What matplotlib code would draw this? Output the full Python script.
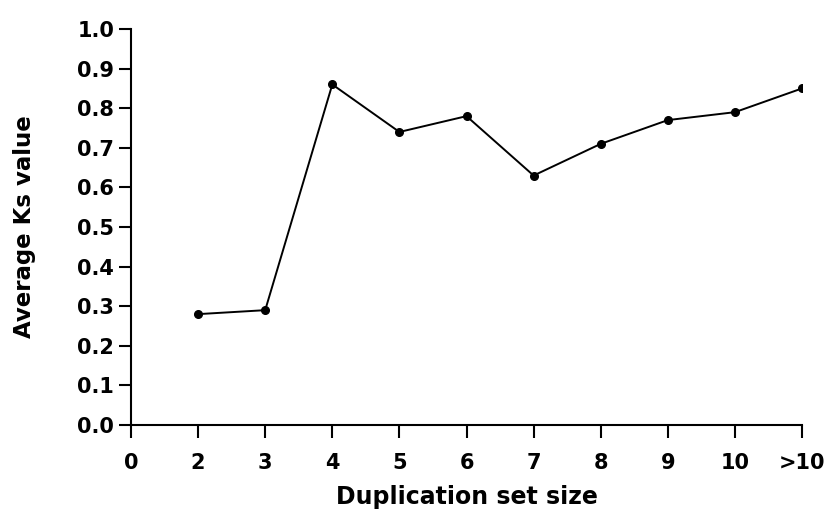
import matplotlib
matplotlib.use("Agg")
import matplotlib.pyplot as plt

### Data.
size_labels = ["0", "2", "3", "4", "5", "6", "7", "8", "9", "10", ">10"]
point_pos = [1, 2, 3, 4, 5, 6, 7, 8, 9, 10]  # category slots that carry a value (no value at "0")
avg_ks = [0.28, 0.29, 0.86, 0.74, 0.78, 0.63, 0.71, 0.77, 0.79, 0.85]
y_ticks = [0.0, 0.1, 0.2, 0.3, 0.4, 0.5, 0.6, 0.7, 0.8, 0.9, 1.0]

plt.rcParams["font.family"] = ["DejaVu Sans"]
plt.rcParams["font.weight"] = "bold"

fig = plt.figure(figsize=(8.27, 5.11), dpi=100)
ax = fig.add_axes([0.1584, 0.1683, 0.8114, 0.7749])

ax.plot(point_pos, avg_ks, color="black", linewidth=1.4, marker="o", markersize=5.5)

ax.set_xlim(0, len(size_labels) - 1)
ax.set_ylim(0, 1.0)
ax.set_xticks(range(len(size_labels)))
ax.set_xticklabels(size_labels)
ax.set_yticks(y_ticks)
ax.set_yticklabels(["%.1f" % v for v in y_ticks])

for side in ["top", "right"]:
    ax.spines[side].set_visible(False)
for side in ["left", "bottom"]:
    ax.spines[side].set_linewidth(1.5)

ax.tick_params(axis="both", direction="out", length=9, width=1.5, labelsize=15)
ax.tick_params(axis="x", pad=11)
ax.tick_params(axis="y", pad=3)

ax.set_xlabel("Duplication set size", fontsize=17, fontweight="bold", labelpad=9)
ax.set_ylabel("Average Ks value", fontsize=16.5, fontweight="bold", labelpad=30)

fig.savefig("out.png", dpi=100)
